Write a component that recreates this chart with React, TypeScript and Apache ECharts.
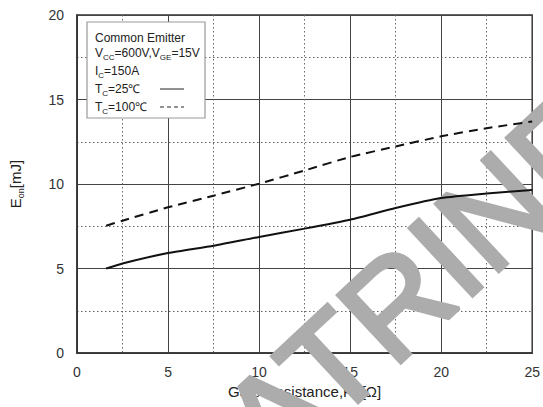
import React, { useEffect, useRef } from "react";
import * as echarts from "echarts";

// Gate resistance R_G [Ω]
const resistance = [1.6, 2.5, 5, 7.5, 10, 12.5, 15, 17.5, 20, 22.5, 25];
// E_on [mJ] at Tc = 25℃ (solid)
const eonTc25 = [5.0, 5.3, 5.92, 6.35, 6.87, 7.36, 7.89, 8.58, 9.17, 9.44, 9.64];
// E_on [mJ] at Tc = 100℃ (dashed)
const eonTc100 = [7.53, 7.83, 8.62, 9.31, 10.02, 10.8, 11.6, 12.22, 12.82, 13.3, 13.7];

const xTicks = [0, 5, 10, 15, 20, 25];
const yTicks = [0, 5, 10, 15, 20];

const FONT = "'Liberation Sans', Arial, sans-serif";

const subRich = (size: number, subSize: number) => ({
  n: { fontSize: size, fontFamily: FONT, color: "#222", lineHeight: size + 4, verticalAlign: "middle" },
  s: { fontSize: subSize, fontFamily: FONT, color: "#222", lineHeight: subSize, verticalAlign: "bottom" },
});

export default function App() {
  const ref = useRef<HTMLDivElement>(null);
  useEffect(() => {
    if (!ref.current) return;
    const chart = echarts.init(ref.current, null, { renderer: "svg" });
    const legendRich = subRich(12, 8);
    const legendText = (y: number, text: string) => ({
      type: "text",
      x: 95,
      y,
      z: 21,
      style: {
        text,
        rich: legendRich,
        fill: "#222",
        font: `12px ${FONT}`,
        verticalAlign: "middle",
        textVerticalAlign: "middle",
      },
    });
    chart.setOption({
      animation: false,
      backgroundColor: "#ffffff",
      grid: {
        left: 76,
        right: 9,
        top: 15,
        bottom: 54,
        show: true,
        borderColor: "#333",
        borderWidth: 1.5,
        backgroundColor: "transparent",
      },
      xAxis: {
        type: "value",
        min: xTicks[0],
        max: xTicks[xTicks.length - 1],
        interval: 5,
        name: "{n|Gate Resistance,R}{s|G}{n|[Ω]}",
        nameLocation: "middle",
        nameGap: 27,
        nameTextStyle: { rich: subRich(15, 10) },
        axisLine: { show: true, lineStyle: { color: "#333", width: 1.5 } },
        axisTick: { show: false },
        axisLabel: { fontSize: 14, fontFamily: FONT, color: "#333", margin: 12 },
        splitLine: { show: true, lineStyle: { color: "#444", width: 1 } },
        minorTick: { show: false, splitNumber: 2 },
        minorSplitLine: { show: true, lineStyle: { color: "#666", width: 1, type: [1.5, 2.5] } },
      },
      yAxis: {
        type: "value",
        min: yTicks[0],
        max: yTicks[yTicks.length - 1],
        interval: 5,
        name: "{n|E}{s|on}{n|[mJ]}",
        nameLocation: "middle",
        nameGap: 52,
        nameTextStyle: { rich: subRich(15, 9) },
        axisLine: { show: true, lineStyle: { color: "#333", width: 1.5 } },
        axisTick: { show: false },
        axisLabel: { fontSize: 14, fontFamily: FONT, color: "#333", margin: 13 },
        splitLine: { show: true, lineStyle: { color: "#444", width: 1 } },
        minorTick: { show: false, splitNumber: 2 },
        minorSplitLine: { show: true, lineStyle: { color: "#666", width: 1, type: [1.5, 2.5] } },
      },
      graphic: [
        {
          type: "text",
          x: 243,
          y: 446,
          rotation: 0.75,
          z: 1,
          silent: true,
          style: {
            text: "ATRINE",
            fill: "#acacac",
            stroke: "#acacac",
            lineWidth: 4,
            font: `134px ${FONT}`,
            align: "left",
            verticalAlign: "middle",
            textAlign: "left",
            textVerticalAlign: "middle",
          },
        },
        {
          type: "rect",
          z: 20,
          shape: { x: 87, y: 22, width: 118, height: 96 },
          style: { fill: "#fff", stroke: "#999", lineWidth: 1.2 },
        },
        legendText(38, "{n|Common Emitter}"),
        legendText(53, "{n|V}{s|CC}{n|=600V,V}{s|GE}{n|=15V}"),
        legendText(71, "{n|I}{s|C}{n|=150A}"),
        legendText(89, "{n|T}{s|C}{n|=25℃}"),
        legendText(107, "{n|T}{s|C}{n|=100℃}"),
        {
          type: "line",
          z: 21,
          shape: { x1: 160, y1: 89, x2: 184, y2: 89 },
          style: { stroke: "#222", lineWidth: 1 },
        },
        {
          type: "line",
          z: 21,
          shape: { x1: 160, y1: 107, x2: 184, y2: 107 },
          style: { stroke: "#222", lineWidth: 1, lineDash: [4, 3] },
        },
      ],
      series: [
        {
          name: "Tc=25℃",
          type: "line",
          z: 5,
          data: resistance.map((r, i) => [r, eonTc25[i]]),
          showSymbol: false,
          smooth: 0.2,
          lineStyle: { color: "#111", width: 2 },
        },
        {
          name: "Tc=100℃",
          type: "line",
          z: 5,
          data: resistance.map((r, i) => [r, eonTc100[i]]),
          showSymbol: false,
          smooth: 0.2,
          lineStyle: { color: "#111", width: 2, type: [9, 6] },
        },
      ],
    });
    return () => chart.dispose();
  }, []);
  return (
    <div
      ref={ref}
      style={{ position: "absolute", left: 0, top: 0, width: 543, height: 407 }}
    />
  );
}
